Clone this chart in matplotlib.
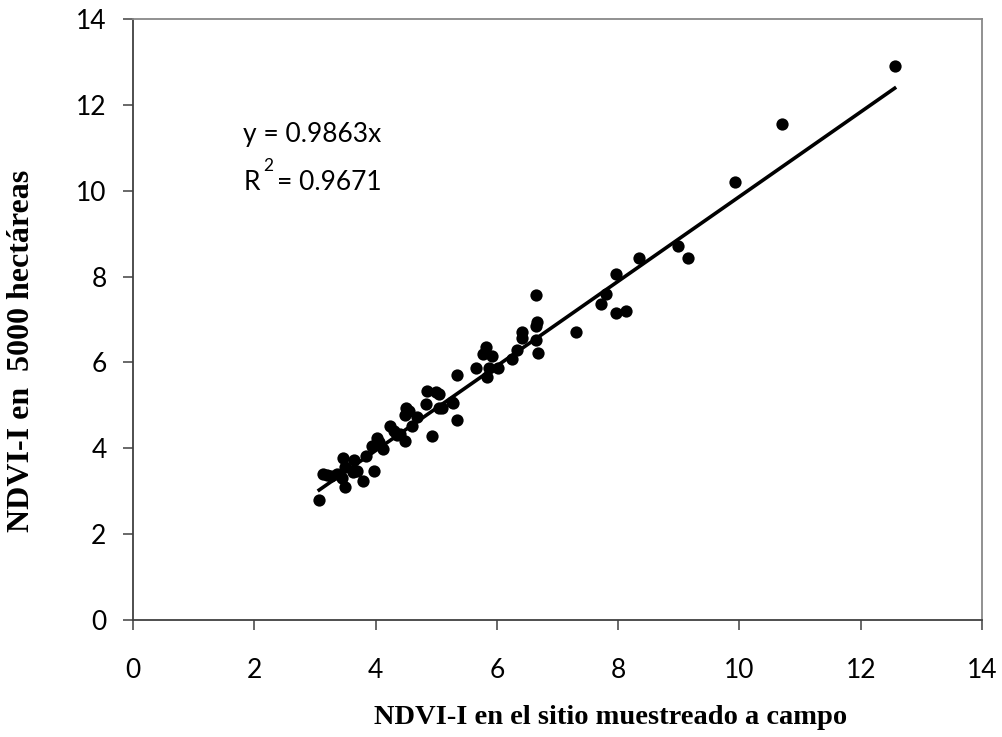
import numpy as np
import matplotlib.pyplot as plt

# NDVI-I measured at the field site (x) vs NDVI-I over 5000 ha (y)
ndvi_sitio = [3.07, 3.14, 3.20, 3.27, 3.37, 3.45, 3.47, 3.50, 3.50, 3.62,
              3.65, 3.69, 3.80, 3.85, 3.94, 3.97, 4.02, 4.05, 4.13, 4.23,
              4.30, 4.35, 4.41, 4.49, 4.48, 4.50, 4.55, 4.60, 4.68, 4.83,
              4.84, 4.93, 4.99, 5.04, 5.04, 5.09, 5.26, 5.28, 5.34, 5.35,
              5.65, 5.77, 5.82, 5.84, 5.87, 5.92, 6.02, 6.25, 6.33, 6.41,
              6.41, 6.64, 6.64, 6.64, 6.66, 6.68, 7.30, 7.72, 7.80, 7.97,
              7.97, 8.13, 8.35, 8.98, 9.16, 9.92, 10.71, 12.56]
ndvi_5000ha = [2.80, 3.40, 3.38, 3.35, 3.40, 3.30, 3.78, 3.56, 3.09, 3.45,
               3.72, 3.47, 3.23, 3.81, 4.05, 3.47, 4.23, 4.15, 3.98, 4.52,
               4.40, 4.30, 4.33, 4.16, 4.77, 4.93, 4.88, 4.51, 4.72, 5.02,
               5.33, 4.28, 5.30, 4.95, 5.26, 4.93, 5.07, 5.05, 5.70, 4.67,
               5.86, 6.19, 6.37, 5.65, 5.86, 6.14, 5.88, 6.09, 6.30, 6.56,
               6.70, 7.56, 6.84, 6.53, 6.95, 6.21, 6.72, 7.37, 7.60, 8.07,
               7.14, 7.19, 8.44, 8.72, 8.44, 10.21, 11.56, 12.90]
slope = 0.9863
r2 = 0.9671

x = np.array(ndvi_sitio)
y = np.array(ndvi_5000ha)

fig = plt.figure(figsize=(10.02, 7.37), dpi=100)
ax = fig.add_axes([133 / 1002, 1 - 620 / 737, (982 - 133) / 1002, (620 - 19) / 737])

ax.scatter(x, y, s=78, color='black', zorder=3, linewidths=0)
xl = np.array([x.min(), x.max()])
ax.plot(xl, slope * xl, color='black', lw=2.6, zorder=2)

ax.set_xlim(0, 14)
ax.set_ylim(0, 14)
ax.set_xticks(np.arange(0, 15, 2))
ax.set_yticks(np.arange(0, 15, 2))

for s in ['left', 'bottom']:
    ax.spines[s].set_color('#404040')
    ax.spines[s].set_linewidth(1.3)
for s in ['top', 'right']:
    ax.spines[s].set_color('#888888')
    ax.spines[s].set_linewidth(1.3)

ax.tick_params(direction='out', length=7, width=1.1, color='#404040', pad=12,
               labelsize=19)
for lab in ax.get_xticklabels() + ax.get_yticklabels():
    lab.set_fontfamily('Lato')
ax.tick_params(axis='x', pad=20)

txt = dict(fontsize=19, family='Lato', color='black')
ax.text(1.82, 11.3, 'y = %.4fx' % slope, va='center', ha='left', **txt)
ax.text(1.82, 10.19, 'R', va='center', ha='left', **txt)
ax.text(2.15, 10.58, '2', va='center', ha='left', fontsize=12.5, family='Lato')
ax.text(2.38, 10.19, '= %.4f' % r2, va='center', ha='left', **txt)

fig.text(611 / 1002, 1 - 717 / 737, 'NDVI-I en el sitio muestreado a campo',
         ha='center', va='center', fontsize=20.5, fontweight='bold',
         family='Liberation Serif')
fig.text(22 / 1002, 1 - 351 / 737, 'NDVI-I en  5000 hectáreas', rotation=90,
         ha='center', va='center', fontsize=23, fontweight='bold',
         family='Liberation Serif')

fig.savefig('out.png', dpi=100)
